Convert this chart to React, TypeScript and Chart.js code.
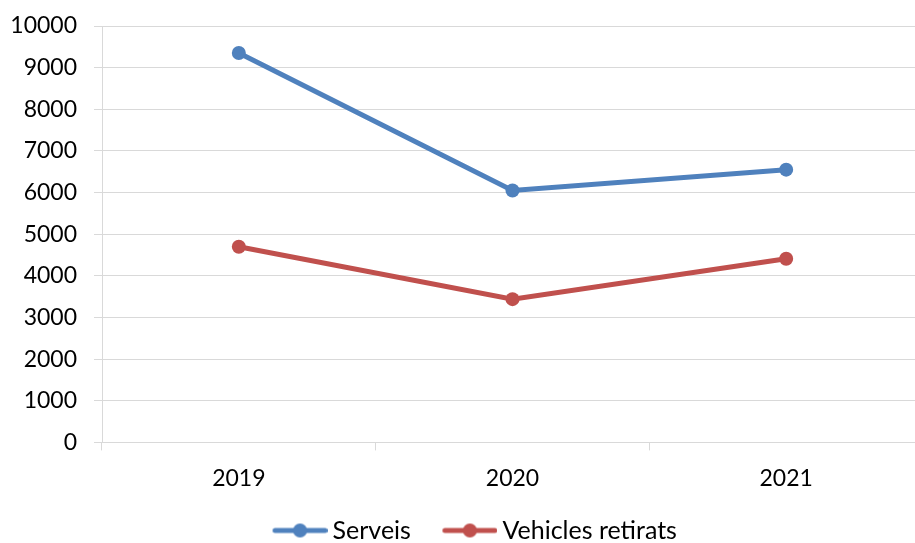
import React, { useEffect, useRef } from "react";
import { Chart, registerables } from "chart.js";

Chart.register(...registerables);

const categories = ["2019", "2020", "2021"];
const serveis = [9350, 6050, 6550];
const vehiclesRetirats = [4700, 3440, 4410];
const seriesNames = ["Serveis", "Vehicles retirats"];
const seriesColors = ["#4F81BD", "#C0504D"];

const FONT = "Lato, 'Open Sans', sans-serif";
const LEGEND_PAD = 12;
const BOX_W = 79 - LEGEND_PAD;
const ICON_W = BOX_W + 15;

function legendIcon(color: string): HTMLCanvasElement {
  const c = document.createElement("canvas");
  c.width = ICON_W;
  c.height = 16;
  const ctx = c.getContext("2d")!;
  const x0 = BOX_W / 2 + ICON_W / 2 - 48;
  ctx.strokeStyle = color;
  ctx.lineWidth = 5;
  ctx.lineCap = "round";
  ctx.beginPath();
  ctx.moveTo(x0 + 3, 8);
  ctx.lineTo(x0 + 53, 8);
  ctx.stroke();
  ctx.fillStyle = color;
  ctx.beginPath();
  ctx.arc(x0 + 28, 8, 7, 0, Math.PI * 2);
  ctx.fill();
  return c;
}

export default function App() {
  const ref = useRef<HTMLCanvasElement>(null);
  useEffect(() => {
    if (!ref.current) return;
    const icons = seriesColors.map(legendIcon);
    const chart = new Chart(ref.current, {
      type: "line",
      data: {
        labels: categories,
        datasets: [serveis, vehiclesRetirats].map((d, i) => ({
          label: seriesNames[i],
          data: d,
          borderColor: seriesColors[i],
          backgroundColor: seriesColors[i],
          borderWidth: 5,
          pointRadius: 7,
          pointBorderWidth: 0,
          pointBackgroundColor: seriesColors[i],
          tension: 0,
        })),
      },
      options: {
        animation: false,
        responsive: false,
        maintainAspectRatio: false,
        layout: { padding: { top: 26, bottom: -10, left: 0, right: 0 } },
        scales: {
          x: {
            offset: true,
            grid: {
              offset: true,
              drawOnChartArea: false,
              color: "#D9D9D9",
              tickLength: 8,
            },
            border: { color: "#D9D9D9" },
            ticks: { color: "#000", font: { family: FONT, size: 23 }, padding: 14 },
          },
          y: {
            min: 0,
            max: 10000,
            afterFit: (s: any) => {
              s.width = 102;
              s.paddingTop = 4;
              s.paddingBottom = 4;
            },
            grid: { color: "#D9D9D9", tickLength: 8 },
            border: { color: "#D9D9D9" },
            ticks: {
              stepSize: 1000,
              color: "#000",
              font: { family: FONT, size: 23 },
              padding: 17,
              callback: (v: any) => String(v),
            },
          },
        },
        plugins: {
          tooltip: { enabled: false },
          legend: {
            position: "bottom",
            labels: {
              usePointStyle: true,
              pointStyleWidth: BOX_W,
              color: "#000",
              font: { family: FONT, size: 25 },
              padding: LEGEND_PAD,
              generateLabels: (ch: any) =>
                Chart.defaults.plugins.legend.labels
                  .generateLabels(ch)
                  .map((l: any, i: number) => ({ ...l, pointStyle: icons[i] })),
            },
          },
        },
      },
    });
    return () => chart.destroy();
  }, []);
  return (
    <div
      style={{
        position: "fixed",
        left: 0,
        top: 0,
        width: 915,
        height: 543,
        overflow: "hidden",
        background: "#fff",
      }}
    >
      <canvas ref={ref} width={930} height={543} style={{ display: "block" }} />
    </div>
  );
}
